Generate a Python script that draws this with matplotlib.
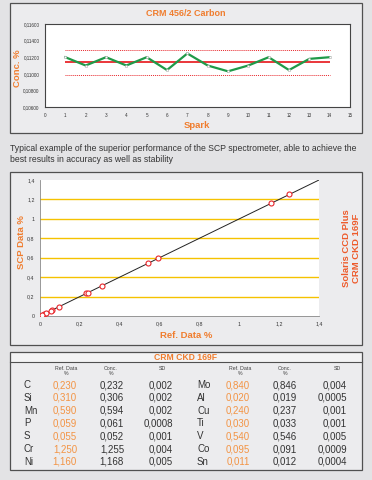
import numpy as np
import matplotlib
matplotlib.use("Agg")
from matplotlib import pyplot as plt
from matplotlib.patches import Rectangle

plt.rcParams['font.family'] = ['Liberation Sans', 'DejaVu Sans']

# --- data -------------------------------------------------------------
spark = [1, 2, 3, 4, 5, 6, 7, 8, 9, 10, 11, 12, 13, 14]
carbon = [0.1120, 0.1110, 0.1120, 0.1110, 0.1120, 0.11045, 0.11245,
          0.1110, 0.1103, 0.1110, 0.1120, 0.11045, 0.1118, 0.1120]
carbon_band = 0.0015

elements_left = ['C', 'Si', 'Mn', 'P', 'S', 'Cr', 'Ni']
ref_left = [0.230, 0.310, 0.590, 0.059, 0.055, 1.250, 1.160]
conc_left = [0.232, 0.306, 0.594, 0.061, 0.052, 1.255, 1.168]
sd_left = [0.002, 0.002, 0.002, 0.0008, 0.001, 0.004, 0.005]

elements_right = ['Mo', 'Al', 'Cu', 'Ti', 'V', 'Co', 'Sn']
ref_right = [0.840, 0.020, 0.240, 0.030, 0.540, 0.095, 0.011]
conc_right = [0.846, 0.019, 0.237, 0.033, 0.546, 0.091, 0.012]
sd_right = [0.004, 0.0005, 0.001, 0.001, 0.005, 0.0009, 0.0004]

# Mo is not drawn in the brochure's correlation plot
not_plotted = ['Mo']

caption = ("Typical example of the superior performance of the SCP spectrometer, able to achieve the\n"
           "best results in accuracy as well as stability")

ORANGE = '#f07d2e'
ORANGE_LIGHT = '#f39444'
RED = '#e8262b'
GREEN = '#1f9a48'
GOLD = '#f5c200'
W, H = 372.0, 480.0


def fx(x):
    return x / W


def fy(y):
    return 1 - y / H


def box(x0, y0, x1, y1):
    return [fx(x0), fy(y1), fx(x1) - fx(x0), fy(y0) - fy(y1)]


def comma(v, fmt):
    return format(v, fmt).replace('.', ',')


fig = plt.figure(figsize=(3.72, 4.8), dpi=100)
fig.patch.set_facecolor('#e3e3e5')

# lighter strip behind the table title
fig.patches.append(Rectangle((fx(10.5), fy(361.5)), fx(351), fy(352.5) - fy(361.5),
                             transform=fig.transFigure, facecolor='#f3f3f4',
                             edgecolor='none', zorder=-6))
# panels (behind the axes)
for (x0, y0, x1, y1) in [(10, 3, 362, 133), (10, 172, 362, 345), (10, 351.5, 362, 470)]:
    fig.patches.append(Rectangle((fx(x0), fy(y1)), fx(x1) - fx(x0), fy(y0) - fy(y1),
                                 transform=fig.transFigure, facecolor='none',
                                 edgecolor='#505050', linewidth=0.9, zorder=-5))
    fig.patches.append(Rectangle((fx(x0), fy(y1)), fx(x1) - fx(x0), fy(y0) - fy(y1),
                                 transform=fig.transFigure, facecolor='#ececee',
                                 edgecolor='none', zorder=-7))

# --- top chart: carbon stability ---------------------------------------
ax1 = fig.add_axes(box(45, 24, 350, 107))
ax1.set_facecolor('white')
mean_c = np.mean(carbon)
ax1.hlines(mean_c, 1, 14, color=RED, lw=1.3)
ax1.hlines([mean_c + carbon_band, mean_c - carbon_band], 1, 14, color=RED, lw=0.7,
           linestyles=(0, (1, 1)))
ax1.plot(spark, carbon, color=GREEN, lw=1.6, marker='o', ms=1.8,
         mfc='white', mec='#999999', mew=0.3)
ax1.set_xlim(0, 15)
ax1.set_ylim(0.106, 0.116)
ax1.set_xticks(range(0, 16))
ax1.set_yticks(np.arange(0.106, 0.1161, 0.002))
ax1.set_yticklabels([comma(v, '.5f') for v in np.arange(0.106, 0.1161, 0.002)])
ax1.tick_params(labelsize=3.3, length=0, pad=4, colors='#333333')
for s in ax1.spines.values():
    s.set_color('#444444')
    s.set_linewidth(0.8)
fig.text(fx(186), fy(13), 'CRM 456/2 Carbon', color=ORANGE, fontsize=6.5,
         fontweight='bold', ha='center', va='center')
fig.text(fx(197), fy(125), 'Spark', color=ORANGE, fontsize=6.8,
         fontweight='bold', ha='center', va='center')
fig.text(fx(18), fy(68), 'Conc. %', color=ORANGE, fontsize=6.8,
         fontweight='bold', ha='center', va='center', rotation=90)

# caption
fig.text(fx(10), fy(144), caption, color='#333333', fontsize=6.2,
         ha='left', va='top', linespacing=1.3)

# --- middle chart: correlation -----------------------------------------
ax2 = fig.add_axes(box(40, 180, 319, 316))
ax2.set_facecolor('white')
ax2.set_xlim(0, 1.4)
ax2.set_ylim(0, 1.4)
for yv in [0.2, 0.4, 0.6, 0.8, 1.0, 1.2]:
    ax2.axhline(yv, color=GOLD, lw=1.0, zorder=1)
ax2.plot([0, 1.4], [0, 1.4], color='#222222', lw=0.7, zorder=2)
px, py = [], []
for els, refs, concs in [(elements_left, ref_left, conc_left),
                         (elements_right, ref_right, conc_right)]:
    for e, r, c in zip(els, refs, concs):
        if e not in not_plotted:
            px.append(r)
            py.append(c)
ax2.plot(px, py, 'o', ms=3.6, mfc='white', mec=RED, mew=0.8, zorder=3)
ticks2 = [0, 0.2, 0.4, 0.6, 0.8, 1.0, 1.2, 1.4]
labels2 = ['0', '0,2', '0,4', '0,6', '0,8', '1', '1,2', '1,4']
ax2.set_xticks(ticks2)
ax2.set_xticklabels(labels2)
ax2.set_yticks(ticks2)
ax2.set_yticklabels(labels2)
ax2.tick_params(labelsize=3.8, length=0, pad=4, colors='#333333')
for side in ['top', 'right']:
    ax2.spines[side].set_visible(False)
for side in ['left', 'bottom']:
    ax2.spines[side].set_color('#888888')
    ax2.spines[side].set_linewidth(0.6)
fig.text(fx(186), fy(336), 'Ref. Data %', color=ORANGE, fontsize=6.8,
         fontweight='bold', ha='center', va='center')
fig.text(fx(21.5), fy(242), 'SCP Data %', color=ORANGE, fontsize=6.8,
         fontweight='bold', ha='center', va='center', rotation=90)
fig.text(fx(351.5), fy(248), 'Solaris CCD Plus\nCRM CKD 169F', color='#ee5a2a',
         fontsize=6.8, fontweight='bold', ha='center', va='center', rotation=90,
         linespacing=1.1)

# --- bottom table --------------------------------------------------------
fig.text(fx(186), fy(359.7), 'CRM CKD 169F', color=ORANGE, fontsize=6.2,
         fontweight='bold', ha='center', va='baseline')
fig.lines.append(plt.Line2D([fx(10), fx(362)], [fy(361.7), fy(361.7)],
                            transform=fig.transFigure, color='#505050', lw=0.8))

for cx, head in [(66, 'Ref. Data\n%'), (111, 'Conc.\n%'), (162, 'SD'),
                 (240, 'Ref. Data\n%'), (285, 'Conc.\n%'), (337, 'SD')]:
    fig.text(fx(cx), fy(366.5), head, color='#444444', fontsize=3.8,
             ha='center', va='top', linespacing=0.9)

row_y = [385, 397.7, 410.7, 423.3, 436.3, 449, 461.7]
cols = [(24, 77, 124, 173, elements_left, ref_left, conc_left, sd_left),
        (197, 250, 297, 347, elements_right, ref_right, conc_right, sd_right)]
for xe, xr, xc, xs, els, refs, concs, sds in cols:
    for yy, e, r, c, s in zip(row_y, els, refs, concs, sds):
        fig.text(fx(xe), fy(yy), e, color='#333333', fontsize=7, ha='left', va='center')
        fig.text(fx(xr), fy(yy), comma(r, '.3f'), color=ORANGE_LIGHT, fontsize=7,
                 ha='right', va='center')
        fig.text(fx(xc), fy(yy), comma(c, '.3f'), color='#333333', fontsize=7,
                 ha='right', va='center')
        fig.text(fx(xs), fy(yy), comma(s, 'g'), color='#333333', fontsize=7,
                 ha='right', va='center')

fig.savefig('out.png', dpi=100, facecolor=fig.get_facecolor())
